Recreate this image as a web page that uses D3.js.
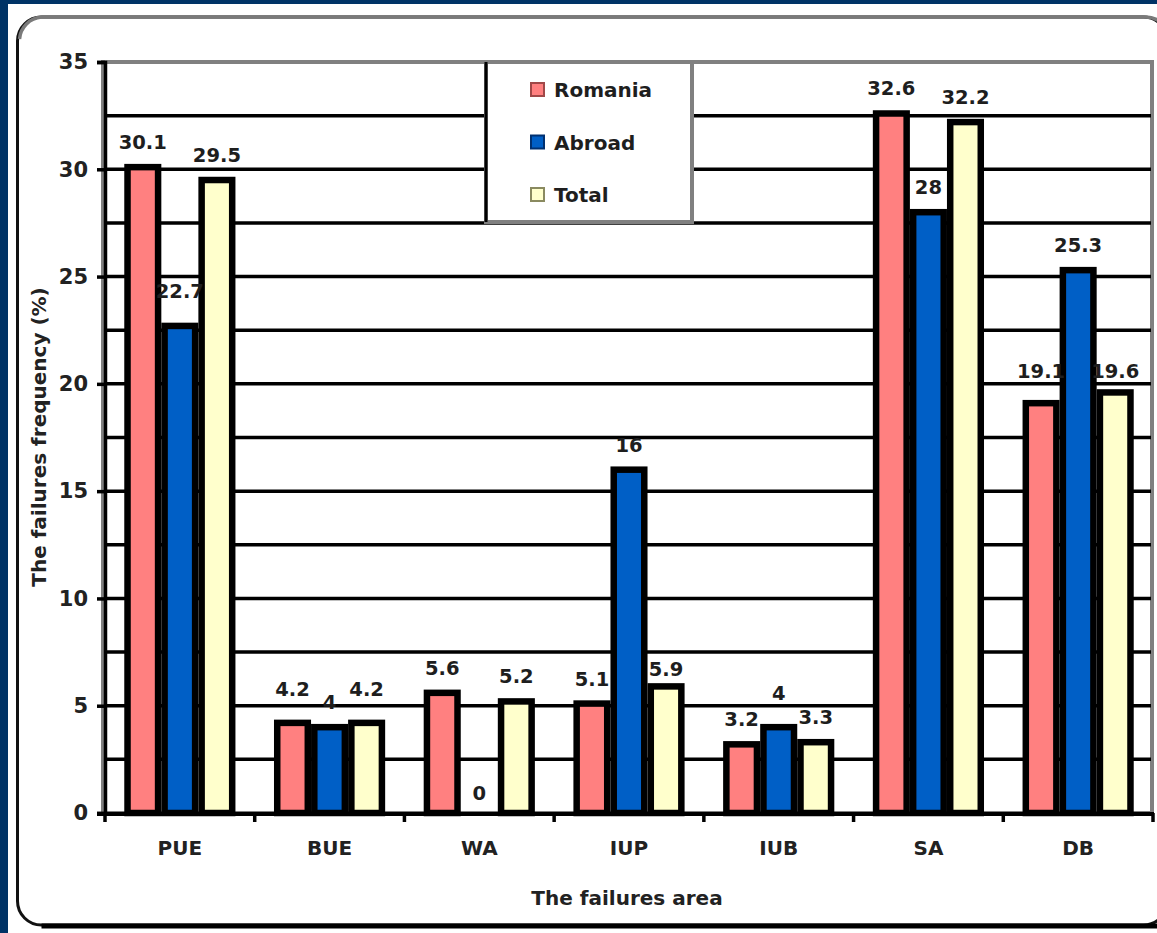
<!DOCTYPE html>
<html>
<head>
<meta charset="utf-8">
<script src="https://cdn.jsdelivr.net/npm/d3@7"></script>
<style>
  html, body { margin: 0; padding: 0; background: #ffffff; }
  svg { display: block; }
  text { font-family: "DejaVu Sans", Verdana, sans-serif; font-weight: bold; }
</style>
</head>
<body>
<svg id="chart" width="1157" height="933"></svg>
<script>
// Failure frequency by area, for Romania, abroad and overall
const categories = ["PUE", "BUE", "WA", "IUP", "IUB", "SA", "DB"];
const seriesNames = ["Romania", "Abroad", "Total"];
const romania = [30.1, 4.2, 5.6, 5.1, 3.2, 32.6, 19.1];
const abroad  = [22.7, 4, 0, 16, 4, 28, 25.3];
const total   = [29.5, 4.2, 5.2, 5.9, 3.3, 32.2, 19.6];
const yTicks  = [0, 5, 10, 15, 20, 25, 30, 35];
const yTitle = "The failures frequency (%)";
const xTitle = "The failures area";

const colors = { Romania: "#ff8080", Abroad: "#005fc6", Total: "#ffffcc" };
const swatchStroke = { Romania: "#a04848", Abroad: "#003070", Total: "#8a8a60" };

// extra lift (px) for labels nudged apart to avoid crowding
const labelLift = { "PUE|Abroad": 10, "BUE|Romania": 9, "BUE|Total": 9, "IUB|Abroad": 9, "DB|Romania": 7, "DB|Total": -4, "IUP|Total": -8 };

const rows = categories.map((c, i) => ({
  category: c,
  values: [
    { series: "Romania", value: romania[i] },
    { series: "Abroad", value: abroad[i] },
    { series: "Total", value: total[i] }
  ]
}));

const svg = d3.select("#chart");
const W = 1157, H = 933;

// page frame: navy band, white sheet, rounded panel
svg.append("rect").attr("width", W).attr("height", H).attr("fill", "#003366");
svg.append("rect").attr("x", 8).attr("y", 4).attr("width", W).attr("height", H).attr("fill", "#ffffff");
const panel = { x: 17.5, y: 17, w: 1150, h: 908, r: 24 };
svg.append("rect")
  .attr("x", panel.x).attr("y", panel.y).attr("width", panel.w).attr("height", panel.h)
  .attr("rx", panel.r).attr("fill", "#ffffff").attr("stroke", "#111").attr("stroke-width", 3);
// top edge in grey
svg.append("path")
  .attr("d", `M${panel.x + 2},${panel.y + panel.r - 2} A${panel.r},${panel.r} 0 0 1 ${panel.x + panel.r},${panel.y} L${panel.x + panel.w - panel.r},${panel.y} A${panel.r},${panel.r} 0 0 1 ${panel.x + panel.w - 4},${panel.y + 8}`)
  .attr("fill", "none").attr("stroke", "#7a7a7a").attr("stroke-width", 3.5);
// heavier bottom edge
svg.append("line")
  .attr("x1", panel.x + panel.r).attr("x2", W).attr("y1", panel.y + panel.h + 1).attr("y2", panel.y + panel.h + 1)
  .attr("stroke", "#000").attr("stroke-width", 5);

// plot area
const plot = { left: 105, right: 1153, top: 62, bottom: 813 };
const y = d3.scaleLinear().domain([0, 35]).range([plot.bottom, plot.top]);
const x0 = d3.scaleBand().domain(categories).range([plot.left, plot.right]).padding(0);
const x1 = d3.scaleBand().domain(seriesNames).range([0, x0.bandwidth()]).paddingInner(0).paddingOuter(0.52);

// grey plot-area border
svg.append("rect")
  .attr("x", plot.left - 2).attr("y", plot.top).attr("width", plot.right - plot.left + 1).attr("height", plot.bottom - plot.top)
  .attr("fill", "#ffffff").attr("stroke", "#808080").attr("stroke-width", 4);

// horizontal gridlines every 2.5
const gridValues = d3.range(2.5, 35, 2.5);
svg.append("g").selectAll("line").data(gridValues).join("line")
  .attr("x1", plot.left).attr("x2", plot.right - 2)
  .attr("y1", d => y(d)).attr("y2", d => y(d))
  .attr("stroke", "#000").attr("stroke-width", 3.5);

// bars
const sw = 6.5;
const groups = svg.append("g").selectAll("g").data(rows).join("g")
  .attr("transform", d => `translate(${x0(d.category)},0)`);
groups.selectAll("rect").data(d => d.values).join("rect")
  .attr("x", d => x1(d.series) + sw / 2)
  .attr("width", x1.bandwidth() - sw)
  .attr("y", d => y(d.value))
  .attr("height", d => y(0) - y(d.value))
  .attr("fill", d => colors[d.series])
  .attr("stroke", "#000")
  .attr("stroke-width", d => d.value > 0 ? sw : 0);

// value labels
groups.selectAll("text").data(d => d.values.map(v => ({ ...v, category: d.category }))).join("text")
  .attr("x", d => x1(d.series) + x1.bandwidth() / 2)
  .attr("y", d => y(d.value) - 18 - (labelLift[d.category + "|" + d.series] || 0) + (d.value === 0 ? 5 : 0))
  .attr("text-anchor", "middle")
  .attr("font-size", 19.5)
  .attr("fill", "#1e1e1e")
  .text(d => d.value);

// y axis
const yAxis = svg.append("g")
  .attr("transform", `translate(${plot.left},0)`)
  .call(d3.axisLeft(y).tickValues(yTicks).tickSize(8).tickPadding(9).tickFormat(d3.format("d")));
yAxis.select(".domain").attr("stroke", "#000").attr("stroke-width", 3.5);
yAxis.selectAll(".tick line").attr("stroke", "#000").attr("stroke-width", 3.5);
yAxis.selectAll(".tick text").attr("font-size", 21).attr("fill", "#222")
  .attr("font-family", "DejaVu Sans, sans-serif").attr("font-weight", "bold");

// x axis: labels centred, ticks between categories
const xAxis = svg.append("g")
  .attr("transform", `translate(0,${plot.bottom})`)
  .call(d3.axisBottom(x0).tickSize(0).tickPadding(28));
xAxis.select(".domain").remove();
xAxis.selectAll(".tick text").attr("font-size", 20).attr("fill", "#222")
  .attr("font-family", "DejaVu Sans, sans-serif").attr("font-weight", "bold");
svg.append("line")
  .attr("x1", plot.left - 8).attr("x2", plot.right + 1)
  .attr("y1", plot.bottom + 1).attr("y2", plot.bottom + 1)
  .attr("stroke", "#000").attr("stroke-width", 4);
svg.append("g").selectAll("line").data(categories.concat(["end"])).join("line")
  .attr("x1", (d, i) => plot.left + i * x0.step()).attr("x2", (d, i) => plot.left + i * x0.step())
  .attr("y1", plot.bottom).attr("y2", plot.bottom + 9)
  .attr("stroke", "#000").attr("stroke-width", 3.5);

// axis titles
svg.append("text")
  .attr("x", (plot.left + plot.right) / 2 - 2).attr("y", 905)
  .attr("text-anchor", "middle").attr("font-size", 20).attr("fill", "#222")
  .text(xTitle);
svg.append("text")
  .attr("transform", "translate(46,437) rotate(-90)")
  .attr("text-anchor", "middle").attr("font-size", 20).attr("fill", "#222")
  .text(yTitle);

// legend
const lg = { x: 486, y: 62, w: 206, h: 160 };
const legend = svg.append("g");
legend.append("rect")
  .attr("x", lg.x).attr("y", lg.y).attr("width", lg.w).attr("height", lg.h)
  .attr("fill", "#ffffff").attr("stroke", "#808080").attr("stroke-width", 4);
legend.append("line")
  .attr("x1", lg.x).attr("x2", lg.x).attr("y1", lg.y).attr("y2", lg.y + lg.h)
  .attr("stroke", "#000").attr("stroke-width", 3);
const items = legend.selectAll("g.item").data(seriesNames).join("g")
  .attr("class", "item")
  .attr("transform", (d, i) => `translate(${lg.x + 45},${lg.y + 28 + i * 52.5})`);
items.append("rect")
  .attr("x", 0).attr("y", -7).attr("width", 13).attr("height", 13)
  .attr("fill", d => colors[d]).attr("stroke", d => swatchStroke[d]).attr("stroke-width", 2);
items.append("text")
  .attr("x", 23).attr("y", 7)
  .attr("font-size", 20).attr("fill", "#1e1e1e")
  .text(d => d);
</script>
</body>
</html>
